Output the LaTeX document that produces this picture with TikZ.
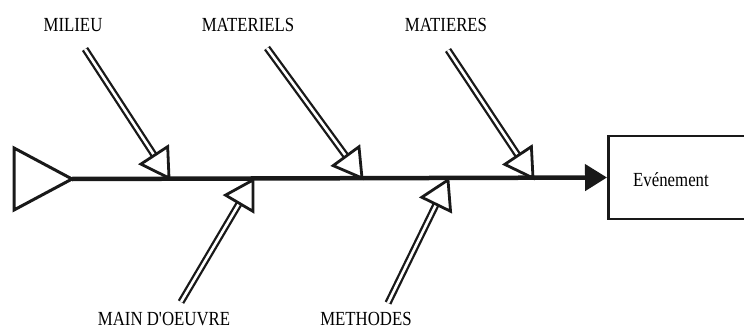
\documentclass[tikz,border=0pt]{standalone}
\usepackage{fontspec}
\newfontfamily\labfont{Liberation Serif}[FakeStretch=0.84]
\usetikzlibrary{calc,arrows.meta}
\newcommand\fishbone[2]{%
  \coordinate (hb) at ($(#2)!27pt!(#1)$);
  \draw[bone] (#1) -- (hb);
  \draw[openhead] (#2) -- ($(hb)!16pt!90:(#2)$) -- ($(hb)!16pt!-90:(#2)$) -- cycle;}
\begin{document}
\begin{tikzpicture}[x=1pt,y=-1pt,
  lab/.style={font=\labfont\fontsize{20}{24}\selectfont, inner sep=0pt, text=black},
  bone/.style={double, double distance=2.6pt, line width=2.3pt, draw=black!90},
  openhead/.style={draw=black!90, line width=2.8pt, fill=white, line join=miter},
  spine/.style={line width=4.5pt, draw=black!90, -{Triangle[length=22pt,width=26pt]}},
  evtbox/.style={draw=black!90, line width=2.5pt, minimum width=170pt, minimum height=83pt, anchor=west, inner sep=0pt}]
\useasboundingbox (0,0) rectangle (744,329);
\clip (0,0) rectangle (744,329);
% labels
\node[lab, anchor=base] (milieu) at (73,32) {MILIEU};
\node[lab, anchor=base] (materiels) at (248,32) {MATERIELS};
\node[lab, anchor=base] (matieres) at (446,32) {MATIERES};
\node[lab, anchor=base] (main) at (164,325) {MAIN D'OEUVRE};
\node[lab, anchor=base] (methodes) at (366,325) {METHODES};
% effect box
\node[evtbox] (box) at (607,177.5) {};
\node[lab, anchor=base west] (evt) at (633,186) {Evénement};
% head triangle
\coordinate (apex) at (72,179);
\draw[draw=black!90, line width=3pt, line join=miter] (14,148) -- (apex) -- (14,210) -- cycle;
% bones
\coordinate (milS) at (85,49);   \coordinate (milT) at (169,178);
\coordinate (matS) at (267,48);  \coordinate (matT) at (362,178);
\coordinate (mtiS) at (448,50);  \coordinate (mtiT) at (533,178);
\coordinate (mainS) at (181,302); \coordinate (mainT) at (253,180);
\coordinate (metS) at (388,303);  \coordinate (metT) at (448,180);
\fishbone{milS}{milT}
\fishbone{matS}{matT}
\fishbone{mtiS}{mtiT}
\fishbone{mainS}{mainT}
\fishbone{metS}{metT}
% spine
\draw[spine] (apex) -- (box.west);
\end{tikzpicture}
\end{document}
